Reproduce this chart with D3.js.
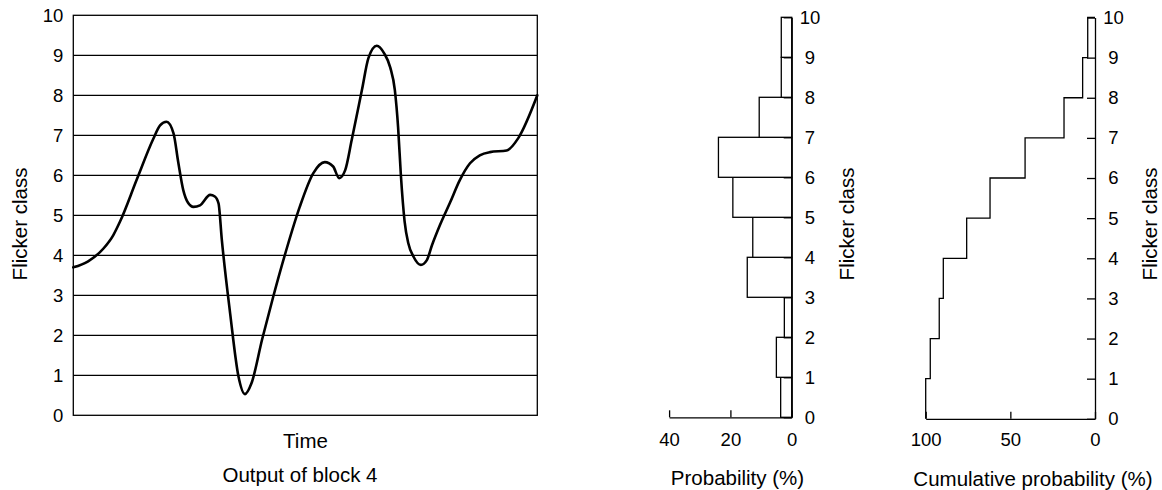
<!DOCTYPE html>
<html>
<head>
<meta charset="utf-8">
<script src="https://cdn.jsdelivr.net/npm/d3@7"></script>
<style>
  html, body { margin: 0; padding: 0; background: #fff; }
  svg { display: block; font-family: "Liberation Sans", Arial, Helvetica, sans-serif; }
</style>
</head>
<body>
<svg id="chart" width="1162" height="490"></svg>
<script>
// ---- Data ----
// Flicker class time series (time in arbitrary units 0..100)
const timeValues = [0.0, 3.2, 6.5, 8.6, 10.1, 13.7, 17.2, 18.7, 20.1, 21.6, 22.6, 23.7, 24.7, 25.9, 27.3, 29.5, 30.5, 31.3, 32.0, 33.8, 35.6, 37.0, 38.4, 40.7, 43.1, 46.0, 48.8, 51.7, 54.2, 56.0, 57.3, 58.6, 60.0, 62.2, 63.6, 65.4, 67.0, 68.3, 69.3, 70.0, 70.6, 71.4, 72.2, 73.3, 74.9, 76.2, 77.3, 79.0, 81.2, 83.3, 85.5, 87.6, 89.8, 93.4, 95.9, 100];
const flickerValues = [3.70, 3.85, 4.17, 4.50, 4.85, 5.90, 6.90, 7.25, 7.34, 7.05, 6.34, 5.63, 5.32, 5.21, 5.25, 5.51, 5.47, 5.30, 4.40, 2.55, 0.97, 0.53, 0.80, 1.90, 2.97, 4.17, 5.21, 6.05, 6.33, 6.22, 5.93, 6.13, 6.88, 8.13, 8.93, 9.24, 9.05, 8.70, 8.13, 7.20, 6.00, 4.85, 4.30, 3.97, 3.76, 3.88, 4.25, 4.75, 5.32, 5.88, 6.30, 6.50, 6.58, 6.62, 6.93, 8.00];

// Flicker classes 0-1, 1-2, ..., 9-10
const classes = [0, 1, 2, 3, 4, 5, 6, 7, 8, 9];
const probability = [3.6, 5.0, 2.4, 14.5, 12.7, 19.2, 23.9, 10.6, 3.4, 3.4];
const cumulative = [100, 97.3, 92.0, 89.6, 75.8, 62.0, 41.3, 18.3, 7.3, 4.3];

const yTicks = [0, 1, 2, 3, 4, 5, 6, 7, 8, 9, 10];
const probTicks = [40, 20, 0];
const cumTicks = [100, 50, 0];

const labels = {
  yLabel: "Flicker class",
  time: "Time",
  block: "Output of block 4",
  prob: "Probability (%)",
  cum: "Cumulative probability (%)"
};

// ---- Drawing ----
const svg = d3.select("#chart");
const tickFont = 18.5;
const labelFont = 20.5;
const sw = 1.3;

// ========== Left: time series ==========
const xL = d3.scaleLinear().domain([0, 100]).range([73.3, 537.3]);
const yL = d3.scaleLinear().domain([0, 10]).range([415.3, 15.3]);

const gL = svg.append("g");
gL.selectAll("line.grid").data(yTicks.filter(d => d > 0 && d < 10)).join("line")
  .attr("class", "grid")
  .attr("x1", xL(0)).attr("x2", xL(100))
  .attr("y1", d => yL(d)).attr("y2", d => yL(d))
  .attr("stroke", "#000").attr("stroke-width", sw);
gL.append("rect")
  .attr("x", xL(0)).attr("y", yL(10))
  .attr("width", xL(100) - xL(0)).attr("height", yL(0) - yL(10))
  .attr("fill", "none").attr("stroke", "#000").attr("stroke-width", sw);
const axL = gL.append("g").attr("transform", `translate(${xL(0)},0)`)
  .call(d3.axisLeft(yL).tickValues(yTicks).tickSize(0).tickPadding(10).tickFormat(d3.format("d")));
axL.select(".domain").remove();
axL.selectAll("text").attr("font-size", tickFont).attr("font-family", null).attr("fill", "#000");

const series = timeValues.map((t, i) => ({ t, v: flickerValues[i] }));
gL.append("path").datum(series)
  .attr("d", d3.line().x(d => xL(d.t)).y(d => yL(d.v)).curve(d3.curveMonotoneX))
  .attr("fill", "none").attr("stroke", "#000").attr("stroke-width", 2.6)
  .attr("stroke-linejoin", "round").attr("stroke-linecap", "round");

svg.append("text").attr("transform", "translate(26.5,224) rotate(-90)")
  .attr("text-anchor", "middle").attr("font-size", labelFont).text(labels.yLabel);
svg.append("text").attr("x", 305.5).attr("y", 448)
  .attr("text-anchor", "middle").attr("font-size", labelFont).text(labels.time);
svg.append("text").attr("x", 300).attr("y", 481.5)
  .attr("text-anchor", "middle").attr("font-size", labelFont).text(labels.block);

// ========== Middle: probability histogram ==========
const xH = d3.scaleLinear().domain([0, 40]).range([791.7, 669.1]);
const yH = d3.scaleLinear().domain([0, 10]).range([417.3, 17.3]);
const gH = svg.append("g");

gH.selectAll("rect.bar").data(classes).join("rect")
  .attr("class", "bar")
  .attr("x", d => xH(probability[d]))
  .attr("width", d => xH(0) - xH(probability[d]))
  .attr("y", d => yH(d + 1))
  .attr("height", d => yH(d) - yH(d + 1))
  .attr("fill", "#fff").attr("stroke", "#000").attr("stroke-width", sw);

const axHY = gH.append("g").attr("transform", `translate(${xH(0)},0)`)
  .call(d3.axisRight(yH).tickValues(yTicks).tickSizeInner(-8).tickSizeOuter(0).tickFormat(d3.format("d")));
axHY.selectAll("path, line").attr("stroke", "#000").attr("stroke-width", sw);
axHY.selectAll("text").attr("x", 18.3).attr("text-anchor", "middle")
  .attr("font-size", tickFont).attr("font-family", null).attr("fill", "#000");

const axHX = gH.append("g").attr("transform", `translate(0,${yH(0)})`)
  .call(d3.axisBottom(xH).tickValues(probTicks).tickSizeInner(-7).tickSizeOuter(0).tickFormat(d3.format("d")));
axHX.selectAll("path, line").attr("stroke", "#000").attr("stroke-width", sw);
axHX.selectAll("text").attr("y", 28.5).attr("dy", null)
  .attr("font-size", tickFont).attr("font-family", null).attr("fill", "#000");

svg.append("text").attr("transform", "translate(853.5,224) rotate(-90)")
  .attr("text-anchor", "middle").attr("font-size", labelFont).text(labels.yLabel);
svg.append("text").attr("x", 737.5).attr("y", 485)
  .attr("text-anchor", "middle").attr("font-size", labelFont).text(labels.prob);

// ========== Right: cumulative probability ==========
const xC = d3.scaleLinear().domain([0, 100]).range([1095, 925.7]);
const yC = d3.scaleLinear().domain([0, 10]).range([418.8, 17.5]);
const gC = svg.append("g");

const stepPts = [[0, 10]];
for (let i = classes.length - 1; i >= 0; i--) {
  stepPts.push([cumulative[i], classes[i] + 1]);
  stepPts.push([cumulative[i], classes[i]]);
}
gC.append("path").datum(stepPts)
  .attr("d", d3.line().x(d => xC(d[0])).y(d => yC(d[1])))
  .attr("fill", "none").attr("stroke", "#000").attr("stroke-width", sw);

const axCY = gC.append("g").attr("transform", `translate(${xC(0)},0)`)
  .call(d3.axisRight(yC).tickValues(yTicks).tickSizeInner(-8).tickSizeOuter(0).tickFormat(d3.format("d")));
axCY.selectAll("path, line").attr("stroke", "#000").attr("stroke-width", sw);
axCY.selectAll("text").attr("x", 18.5).attr("text-anchor", "middle")
  .attr("font-size", tickFont).attr("font-family", null).attr("fill", "#000");

const axCX = gC.append("g").attr("transform", `translate(0,${yC(0)})`)
  .call(d3.axisBottom(xC).tickValues(cumTicks).tickSizeInner(-7).tickSizeOuter(0).tickFormat(d3.format("d")));
axCX.selectAll("path, line").attr("stroke", "#000").attr("stroke-width", sw);
axCX.selectAll("text").attr("y", 27.5).attr("dy", null)
  .attr("font-size", tickFont).attr("font-family", null).attr("fill", "#000");

svg.append("text").attr("transform", "translate(1157,224) rotate(-90)")
  .attr("text-anchor", "middle").attr("font-size", labelFont).text(labels.yLabel);
svg.append("text").attr("x", 1033).attr("y", 486)
  .attr("text-anchor", "middle").attr("font-size", labelFont).text(labels.cum);
</script>
</body>
</html>
